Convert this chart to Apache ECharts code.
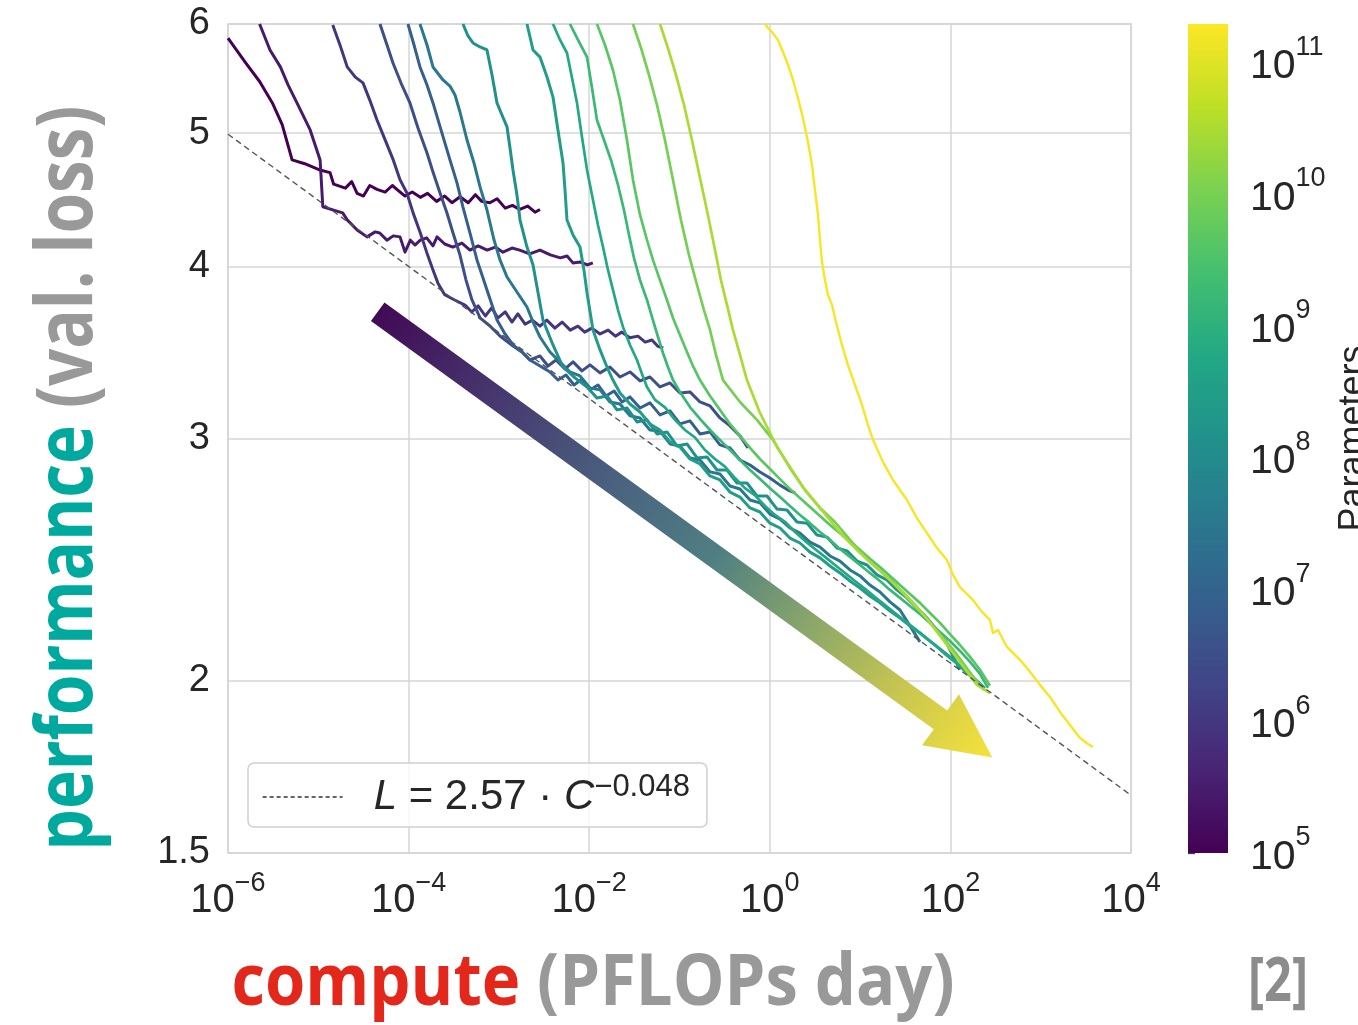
<!DOCTYPE html>
<html lang="en">
<head>
  <meta charset="UTF-8">
  <title>Loss vs compute</title>
  <style>
    body { margin: 0; background: #fff; }
    #main { width: 1358px; height: 1025px; }
  </style>
</head>
<body>
  <div id="main"></div>
</body>
</html>
<script src="https://cdn.jsdelivr.net/npm/echarts@6/dist/echarts.min.js"></script>
<script>
// ticks
var computeTicks = [1e-6, 1e-4, 1e-2, 1, 1e2, 1e4];
var lossTicks = [1.5, 2, 3, 4, 5, 6];
var paramTicks = [1e5, 1e6, 1e7, 1e8, 1e9, 1e10, 1e11];
var paramRange = [1e5, 1.95e11];

// model size of each run, same order as runs below
var params = [1e5, 2.8e5, 9e5, 3.2e6, 7.7e6, 3.3e7, 1.4e8, 2.9e8, 5.9e8, 1.6e9, 4.5e9, 9.3e9, 3e10, 1.75e11];

// each point: [log10 compute (PF-days), validation loss]
var runA = [[-6.00,5.86],[-5.81,5.63],[-5.65,5.45],[-5.51,5.26],[-5.40,5.07],[-5.29,4.78],[-5.15,4.75],[-4.98,4.70],[-4.87,4.68],[-4.83,4.59],[-4.70,4.56],[-4.63,4.61],[-4.57,4.52],[-4.50,4.50],[-4.43,4.58],[-4.35,4.55],[-4.26,4.53],[-4.18,4.58],[-4.12,4.545],[-4.04,4.50],[-3.96,4.53],[-3.87,4.49],[-3.79,4.52],[-3.69,4.46],[-3.60,4.50],[-3.52,4.45],[-3.43,4.495],[-3.34,4.45],[-3.26,4.51],[-3.19,4.46],[-3.10,4.45],[-3.02,4.48],[-2.93,4.41],[-2.85,4.43],[-2.77,4.40],[-2.68,4.425],[-2.60,4.38],[-2.545,4.40]];
var runB = [[-5.65,6.0],[-5.535,5.745],[-5.42,5.585],[-5.335,5.42],[-5.235,5.257],[-5.09,5.026],[-4.98,4.78],[-4.95,4.42],[-4.84,4.397],[-4.73,4.375],[-4.68,4.324],[-4.57,4.252],[-4.46,4.203],[-4.37,4.238],[-4.32,4.23],[-4.24,4.18],[-4.17,4.21],[-4.095,4.203],[-4.04,4.097],[-3.98,4.18],[-3.93,4.146],[-3.87,4.18],[-3.80,4.196],[-3.73,4.14],[-3.685,4.203],[-3.60,4.153],[-3.51,4.132],[-3.41,4.16],[-3.32,4.111],[-3.23,4.14],[-3.13,4.111],[-3.04,4.132],[-2.955,4.097],[-2.855,4.125],[-2.77,4.111],[-2.66,4.085],[-2.545,4.111],[-2.43,4.078],[-2.32,4.058],[-2.245,4.071],[-2.18,4.024],[-2.10,4.03],[-2.02,4.01],[-1.96,4.024]];
var runC = [[-4.84,5.99],[-4.76,5.794],[-4.68,5.585],[-4.59,5.49],[-4.505,5.437],[-4.43,5.283],[-4.35,5.11],[-4.26,4.943],[-4.17,4.78],[-4.095,4.624],[-4.02,4.525],[-3.95,4.375],[-3.87,4.23],[-3.80,4.097],[-3.73,3.977],[-3.675,3.89],[-3.60,3.815],[-3.49,3.782],[-3.375,3.75],[-3.30,3.707],[-3.23,3.745],[-3.15,3.682],[-3.08,3.732],[-3.01,3.67],[-2.93,3.707],[-2.855,3.645],[-2.79,3.695],[-2.71,3.632],[-2.63,3.657],[-2.545,3.62],[-2.47,3.657],[-2.38,3.608],[-2.30,3.645],[-2.21,3.596],[-2.125,3.62],[-2.05,3.584],[-1.97,3.608],[-1.88,3.573],[-1.79,3.596],[-1.71,3.56],[-1.64,3.584],[-1.55,3.55],[-1.46,3.56],[-1.38,3.525],[-1.305,3.537],[-1.24,3.50],[-1.18,3.49]];
var runD = [[-4.317,6.0],[-4.239,5.793],[-4.173,5.621],[-4.084,5.436],[-3.985,5.258],[-3.896,5.042],[-3.796,4.836],[-3.730,4.685],[-3.652,4.523],[-3.575,4.374],[-3.508,4.230],[-3.431,4.077],[-3.364,3.910],[-3.298,3.782],[-3.209,3.670],[-3.099,3.621],[-2.988,3.561],[-2.844,3.502],[-2.744,3.467],[-2.656,3.421],[-2.545,3.444],[-2.456,3.387],[-2.368,3.421],[-2.268,3.370],[-2.179,3.410],[-2.080,3.359],[-1.991,3.393],[-1.880,3.348],[-1.770,3.381],[-1.659,3.325],[-1.548,3.353],[-1.437,3.303],[-1.327,3.325],[-1.216,3.270],[-1.105,3.292],[-0.995,3.237],[-0.884,3.243],[-0.773,3.189],[-0.662,3.168],[-0.552,3.105],[-0.441,3.064],[-0.330,3.013],[-0.242,2.953]];
var runE = [[-4.007,6.0],[-3.940,5.793],[-3.874,5.584],[-3.796,5.418],[-3.730,5.258],[-3.641,5.026],[-3.542,4.780],[-3.464,4.600],[-3.398,4.418],[-3.320,4.230],[-3.243,4.044],[-3.187,3.943],[-3.132,3.846],[-3.076,3.751],[-3.021,3.657],[-2.932,3.573],[-2.844,3.508],[-2.744,3.467],[-2.656,3.421],[-2.545,3.387],[-2.434,3.353],[-2.346,3.308],[-2.257,3.336],[-2.168,3.281],[-2.080,3.314],[-1.991,3.254],[-1.903,3.281],[-1.814,3.221],[-1.725,3.248],[-1.637,3.189],[-1.548,3.216],[-1.437,3.157],[-1.327,3.184],[-1.216,3.121],[-1.105,3.142],[-0.995,3.074],[-0.884,3.090],[-0.773,3.023],[-0.662,3.033],[-0.552,2.968],[-0.441,2.953],[-0.330,2.894],[-0.219,2.870],[-0.109,2.837],[0.002,2.808],[0.113,2.775],[0.202,2.752],[0.280,2.739]];
var runF = [[-3.874,6.0],[-3.796,5.793],[-3.730,5.584],[-3.619,5.464],[-3.542,5.409],[-3.486,5.328],[-3.431,5.179],[-3.353,4.942],[-3.276,4.756],[-3.209,4.569],[-3.132,4.396],[-3.054,4.181],[-2.988,4.044],[-2.910,3.930],[-2.800,3.833],[-2.689,3.738],[-2.622,3.645],[-2.545,3.555],[-2.434,3.467],[-2.323,3.409],[-2.213,3.353],[-2.102,3.331],[-1.991,3.264],[-1.880,3.254],[-1.770,3.189],[-1.659,3.178],[-1.548,3.116],[-1.437,3.105],[-1.327,3.043],[-1.216,3.038],[-1.105,2.973],[-0.995,2.963],[-0.884,2.904],[-0.773,2.894],[-0.662,2.837],[-0.552,2.827],[-0.441,2.771],[-0.330,2.757],[-0.219,2.707],[-0.109,2.694],[0.002,2.644],[0.113,2.622],[0.223,2.583],[0.334,2.561],[0.445,2.523],[0.556,2.502],[0.667,2.465],[0.777,2.444],[0.888,2.408],[0.999,2.384],[1.109,2.348],[1.220,2.321],[1.331,2.283],[1.442,2.252],[1.552,2.193],[1.663,2.135]];
var runG = [[-3.398,6.0],[-3.342,5.881],[-3.287,5.813],[-3.209,5.774],[-3.132,5.745],[-3.076,5.510],[-3.021,5.258],[-2.966,5.153],[-2.910,5.051],[-2.877,4.877],[-2.844,4.701],[-2.800,4.508],[-2.766,4.323],[-2.689,4.132],[-2.622,4.010],[-2.578,3.865],[-2.512,3.657],[-2.401,3.508],[-2.290,3.381],[-2.157,3.320],[-2.024,3.270],[-1.914,3.210],[-1.803,3.221],[-1.692,3.147],[-1.582,3.157],[-1.471,3.084],[-1.360,3.095],[-1.249,3.023],[-1.139,3.033],[-1.028,2.963],[-0.917,2.973],[-0.806,2.904],[-0.696,2.909],[-0.585,2.846],[-0.474,2.846],[-0.363,2.785],[-0.253,2.785],[-0.142,2.725],[-0.031,2.725],[0.080,2.666],[0.190,2.662],[0.301,2.609],[0.412,2.604],[0.522,2.553],[0.633,2.544],[0.744,2.498],[0.855,2.486],[0.966,2.444],[1.076,2.428],[1.187,2.388],[1.298,2.368],[1.408,2.329],[1.519,2.298],[1.630,2.260],[1.741,2.222],[1.851,2.178],[1.962,2.128],[2.051,2.072],[2.106,2.038]];
var runH = [[-2.689,6.0],[-2.622,5.745],[-2.545,5.677],[-2.467,5.491],[-2.401,5.310],[-2.346,5.026],[-2.290,4.756],[-2.268,4.546],[-2.246,4.323],[-2.179,4.216],[-2.102,4.132],[-2.058,3.977],[-2.024,3.826],[-1.958,3.597],[-1.880,3.479],[-1.803,3.381],[-1.737,3.308],[-1.659,3.237],[-1.548,3.178],[-1.437,3.136],[-1.327,3.074],[-1.216,3.043],[-1.105,2.983],[-0.995,2.958],[-0.884,2.899],[-0.773,2.875],[-0.662,2.818],[-0.552,2.799],[-0.441,2.743],[-0.330,2.720],[-0.219,2.671],[-0.109,2.653],[0.002,2.604],[0.113,2.583],[0.223,2.540],[0.334,2.519],[0.445,2.481],[0.556,2.457],[0.667,2.424],[0.777,2.396],[0.888,2.364],[0.999,2.336],[1.109,2.305],[1.220,2.279],[1.331,2.248],[1.442,2.222],[1.552,2.193],[1.663,2.167],[1.774,2.138],[1.885,2.110],[1.995,2.082],[2.106,2.051],[2.195,2.024],[2.272,2.003]];
var runI = [[-2.401,6.0],[-2.323,5.842],[-2.246,5.716],[-2.190,5.482],[-2.135,5.258],[-2.080,4.967],[-2.024,4.701],[-1.958,4.470],[-1.903,4.287],[-1.847,4.132],[-1.792,3.977],[-1.737,3.846],[-1.681,3.719],[-1.626,3.615],[-1.548,3.508],[-1.471,3.421],[-1.415,3.342],[-1.360,3.270],[-1.271,3.200],[-1.161,3.16],[-1.050,3.095],[-0.939,3.043],[-0.828,3.005],[-0.718,2.943],[-0.607,2.899],[-0.496,2.862],[-0.386,2.808],[-0.275,2.761],[-0.164,2.728],[-0.053,2.680],[0.057,2.640],[0.168,2.610],[0.279,2.566],[0.389,2.528],[0.500,2.494],[0.611,2.461],[0.722,2.428],[0.833,2.396],[0.943,2.364],[1.054,2.333],[1.165,2.301],[1.276,2.271],[1.386,2.241],[1.497,2.211],[1.608,2.182],[1.719,2.152],[1.829,2.124],[1.940,2.092],[2.051,2.065],[2.162,2.038],[2.272,2.007],[2.383,1.977]];
var runJ = [[-2.213,6.0],[-2.124,5.842],[-2.024,5.677],[-1.969,5.391],[-1.914,5.110],[-1.836,4.942],[-1.759,4.780],[-1.681,4.584],[-1.615,4.396],[-1.559,4.216],[-1.504,4.057],[-1.437,3.910],[-1.360,3.782],[-1.294,3.657],[-1.238,3.555],[-1.183,3.461],[-1.128,3.381],[-1.072,3.308],[-0.995,3.243],[-0.884,3.162],[-0.773,3.100],[-0.662,3.043],[-0.552,2.993],[-0.441,2.943],[-0.330,2.894],[-0.219,2.846],[-0.109,2.803],[0.002,2.761],[0.113,2.720],[0.223,2.680],[0.334,2.640],[0.445,2.604],[0.556,2.566],[0.667,2.532],[0.777,2.494],[0.888,2.461],[0.999,2.428],[1.109,2.396],[1.220,2.364],[1.331,2.329],[1.442,2.298],[1.552,2.267],[1.663,2.237],[1.774,2.204],[1.885,2.171],[1.995,2.138],[2.106,2.103],[2.217,2.065],[2.328,2.024],[2.416,1.977]];
var runK = [[-1.914,6.0],[-1.825,5.793],[-1.737,5.556],[-1.659,5.284],[-1.582,4.942],[-1.515,4.623],[-1.437,4.360],[-1.360,4.181],[-1.294,4.044],[-1.216,3.910],[-1.139,3.782],[-1.072,3.670],[-0.995,3.567],[-0.917,3.467],[-0.851,3.387],[-0.773,3.308],[-0.662,3.221],[-0.552,3.147],[-0.441,3.074],[-0.330,3.013],[-0.219,2.953],[-0.109,2.899],[0.002,2.851],[0.113,2.803],[0.223,2.757],[0.334,2.716],[0.445,2.675],[0.556,2.635],[0.667,2.596],[0.777,2.561],[0.888,2.523],[0.999,2.490],[1.109,2.453],[1.220,2.420],[1.331,2.384],[1.442,2.348],[1.552,2.313],[1.663,2.279],[1.774,2.241],[1.885,2.204],[1.995,2.163],[2.106,2.124],[2.217,2.082],[2.328,2.038],[2.438,1.984]];
var runL = [[-1.515,6.0],[-1.426,5.764],[-1.338,5.510],[-1.249,5.240],[-1.161,4.942],[-1.072,4.623],[-0.984,4.323],[-0.895,4.077],[-0.806,3.878],[-0.729,3.719],[-0.662,3.597],[-0.596,3.450],[-0.518,3.308],[-0.330,3.189],[-0.142,3.095],[0.035,2.993],[0.223,2.856],[0.389,2.752],[0.556,2.671],[0.722,2.609],[0.888,2.532],[1.109,2.440],[1.364,2.360],[1.608,2.271],[1.829,2.185],[2.051,2.099],[2.239,2.020],[2.372,1.970]];
var runM = [[-1.216,6.0],[-1.128,5.764],[-1.039,5.510],[-0.950,5.240],[-0.862,4.942],[-0.773,4.638],[-0.685,4.360],[-0.607,4.111],[-0.541,3.910],[-0.474,3.751],[-0.408,3.597],[-0.330,3.450],[-0.253,3.308],[-0.109,3.131],[0.080,2.958],[0.223,2.861],[0.367,2.766],[0.500,2.698],[0.667,2.617],[0.811,2.548],[0.999,2.477],[1.187,2.416],[1.364,2.356],[1.552,2.290],[1.752,2.215],[1.962,2.124],[2.128,2.055],[2.294,1.987],[2.438,1.960]];
var runY = [[-0.053,6.0],[-0.020,5.960],[0.024,5.920],[0.091,5.842],[0.146,5.725],[0.202,5.603],[0.257,5.464],[0.312,5.302],[0.367,5.128],[0.423,4.926],[0.467,4.740],[0.500,4.546],[0.534,4.360],[0.556,4.181],[0.578,4.030],[0.611,3.910],[0.644,3.814],[0.689,3.751],[0.733,3.645],[0.799,3.508],[0.866,3.392],[0.943,3.281],[1.021,3.173],[1.087,3.069],[1.143,2.993],[1.253,2.885],[1.364,2.799],[1.519,2.707],[1.630,2.626],[1.741,2.561],[1.851,2.498],[1.962,2.448],[2.029,2.388],[2.106,2.340],[2.250,2.290],[2.350,2.245],[2.438,2.215],[2.472,2.167],[2.527,2.178],[2.627,2.117],[2.771,2.072],[2.881,2.031],[2.992,1.987],[3.103,1.947],[3.214,1.899],[3.324,1.858],[3.435,1.818],[3.524,1.800],[3.579,1.791]];
var runs = [runA, runB, runC, runD, runE, runF, runG, runH, runI, runJ, runK, runL, runM, runY];

// L = 2.57 * C^-0.048, end points
var fitLine = [[1e-6, 4.99], [1e4, 1.652]];

// big annotation arrow, in data coordinates
var arrowFrom = [Math.pow(10, -4.342), 3.708];
var arrowTo = [Math.pow(10, 2.464), 1.760];

var viridis = ['#440154', '#482475', '#414487', '#355f8d', '#2a788e', '#21918c', '#22a884', '#44bf70', '#7ad151', '#bddf26', '#fde725'];
var FONT = 'Liberation Sans';
var INK = '#262626';

function hexToRgb(h) {
  return [parseInt(h.slice(1, 3), 16), parseInt(h.slice(3, 5), 16), parseInt(h.slice(5, 7), 16)];
}
function viridisAt(t) {
  t = Math.max(0, Math.min(1, t));
  var s = t * 10;
  var i = Math.min(9, Math.floor(s));
  var f = s - i;
  var a = hexToRgb(viridis[i]), b = hexToRgb(viridis[i + 1]);
  var c = a.map(function (v, k) { return Math.round(v + (b[k] - v) * f); });
  return 'rgb(' + c.join(',') + ')';
}
function paramColor(p) {
  var lo = Math.log10(paramRange[0]), hi = Math.log10(paramRange[1]);
  return viridisAt((Math.log10(p) - lo) / (hi - lo));
}
function powLabel(v) {
  var n = Math.round(Math.log10(v));
  return '{b|10}{s|' + (n < 0 ? '\u2212' + (-n) : n) + '}';
}
function textWidth(str, font) {
  var c = textWidth.ctx || (textWidth.ctx = document.createElement('canvas').getContext('2d'));
  c.font = font;
  return c.measureText(str).width;
}

var cbStops = viridis.map(function (c, i) { return { offset: i / 10, color: c }; });

var series = runs.map(function (run, i) {
  var w = i < 8 ? 3 : (i === runs.length - 1 ? 2.4 : 2.7);
  return {
    name: 'N=' + params[i],
    type: 'line',
    xAxisIndex: 0,
    yAxisIndex: 0,
    data: run.map(function (p) { return [Math.pow(10, p[0]), p[1]]; }),
    symbol: 'none',
    silent: true,
    z: 2,
    lineStyle: { color: paramColor(params[i]), width: w, join: 'round' }
  };
});
series.push({
  name: 'fit',
  type: 'line',
  data: fitLine,
  symbol: 'none',
  silent: true,
  z: 4,
  itemStyle: { color: '#555' },
  lineStyle: { color: '#555', width: 1.4, type: [6, 4] }
});
series.push({
  type: 'custom',
  xAxisIndex: 1,
  yAxisIndex: 1,
  silent: true,
  data: [[0, 1, paramRange[0], paramRange[1]]],
  renderItem: function (params, api) {
    var p0 = api.coord([api.value(0), api.value(2)]);
    var p1 = api.coord([api.value(1), api.value(3)]);
    return {
      type: 'rect',
      shape: { x: p0[0], y: p1[1], width: p1[0] - p0[0], height: p0[1] - p1[1] },
      style: { fill: new echarts.graphic.LinearGradient(0, 1, 0, 0, cbStops) }
    };
  }
});

var chart = echarts.init(document.getElementById('main'));
var option = {
  animation: false,
  textStyle: { fontFamily: FONT },
  grid: [
    { left: 228, top: 24, width: 903, height: 829, outerBoundsMode: 'none', show: true, borderColor: '#cfcfcf', borderWidth: 1.5 },
    { left: 1188, top: 24, width: 40, height: 829, outerBoundsMode: 'none' }
  ],
  xAxis: [
    {
      type: 'log', gridIndex: 0, min: 1e-6, max: 1e4,
      axisLine: { show: false },
      axisTick: { show: false, customValues: computeTicks },
      splitLine: { show: true, lineStyle: { color: '#d6d6d6', width: 1.5 } },
      axisLabel: {
        customValues: computeTicks,
        formatter: powLabel,
        margin: 17,
        rich: {
          b: { fontSize: 40, lineHeight: 62, color: INK, fontFamily: FONT },
          s: { fontSize: 27, lineHeight: 20, verticalAlign: 'top', color: INK, fontFamily: FONT }
        }
      }
    },
    { type: 'value', gridIndex: 1, min: 0, max: 1, show: false }
  ],
  yAxis: [
    {
      type: 'log', gridIndex: 0, min: 1.5, max: 6,
      axisLine: { show: false },
      axisTick: { show: false, customValues: lossTicks },
      splitLine: { show: true, lineStyle: { color: '#d6d6d6', width: 1.5 } },
      axisLabel: {
        customValues: lossTicks,
        formatter: function (v) { return String(Math.round(v * 10) / 10); },
        margin: 18, fontSize: 38, color: INK, fontFamily: FONT,
        padding: [7, 0, 0, 0]
      }
    },
    {
      type: 'log', gridIndex: 1, min: paramRange[0], max: paramRange[1], position: 'right',
      axisLine: { show: false },
      axisTick: { show: true, customValues: paramTicks, length: 7, lineStyle: { color: '#444', width: 1.3 } },
      splitLine: { show: false },
      axisLabel: {
        customValues: paramTicks,
        formatter: powLabel,
        margin: 22,
        padding: [9, 0, 0, 0],
        rich: {
          b: { fontSize: 41, lineHeight: 66, color: INK, fontFamily: FONT },
          s: { fontSize: 27, lineHeight: 20, verticalAlign: 'top', color: INK, fontFamily: FONT }
        }
      },
      name: 'Parameters',
      nameLocation: 'middle',
      nameRotate: 90,
      nameGap: 108,
      nameTextStyle: { fontSize: 36, color: INK, fontFamily: FONT }
    }
  ],
  legend: {
    data: ['fit'],
    left: 248, top: 763,
    orient: 'vertical',
    selectedMode: false,
    padding: [9, 17, 9, 14],
    itemWidth: 80, itemHeight: 20,
    backgroundColor: 'rgba(255,255,255,0.8)',
    borderColor: '#d0d0d0', borderWidth: 1.5, borderRadius: 6,
    itemStyle: { opacity: 0 },
    lineStyle: { width: 1.3, type: [4, 3], color: '#333' },
    formatter: function () { return '{sp|}{it|L}{n| = 2.57 \u00b7 }{it|C}{sup|\u22120.048}'; },
    textStyle: {
      color: INK,
      rich: {
        sp: { width: 26 },
        it: { fontSize: 42, lineHeight: 50, fontStyle: 'italic', color: INK, fontFamily: FONT },
        n: { fontSize: 42, lineHeight: 50, color: INK, fontFamily: FONT },
        sup: { fontSize: 31, lineHeight: 24, verticalAlign: 'top', color: INK, fontFamily: FONT }
      }
    }
  },
  series: series
};
chart.setOption(option);

// arrow shape built around the two data points
var t = chart.convertToPixel({ gridIndex: 0 }, arrowFrom);
var p = chart.convertToPixel({ gridIndex: 0 }, arrowTo);
var dx = p[0] - t[0], dy = p[1] - t[1];
var len = Math.sqrt(dx * dx + dy * dy);
var ux = dx / len, uy = dy / len, nx = -uy, ny = ux;
var shaft = 11.5, head = 31.5, headLen = 64;
var bx = p[0] - ux * headLen, by = p[1] - uy * headLen;
var arrowPts = [
  [t[0] + nx * shaft, t[1] + ny * shaft],
  [bx + nx * shaft, by + ny * shaft],
  [bx + nx * head, by + ny * head],
  [p[0], p[1]],
  [bx - nx * head, by - ny * head],
  [bx - nx * shaft, by - ny * shaft],
  [t[0] - nx * shaft, t[1] - ny * shaft]
];
var arrowFill = new echarts.graphic.LinearGradient(t[0], t[1], p[0], p[1], [
  { offset: 0, color: '#420a55' },
  { offset: 0.2, color: '#463a70' },
  { offset: 0.4, color: '#4a6580' },
  { offset: 0.55, color: '#4f7f82' },
  { offset: 0.7, color: '#8aa66a' },
  { offset: 0.85, color: '#c8c650' },
  { offset: 1, color: '#f5e23a' }
], true);

var TITLE_FONT = 'Open Sans';
var yTitle = 'performance (val. loss)';
var xTitle = 'compute (PFLOPs day)';
var yScale = 745 / textWidth(yTitle, 'bold 78px "' + TITLE_FONT + '"');
var xScale = 723 / textWidth(xTitle, 'bold 72px "' + TITLE_FONT + '"');
var refScale = 60 / textWidth('[2]', 'bold 60px "' + TITLE_FONT + '"');

chart.setOption({
  graphic: [
    {
      type: 'polygon', z: 50, silent: true,
      shape: { points: arrowPts },
      style: { fill: arrowFill }
    },
    {
      type: 'text', x: 70, y: 478, rotation: Math.PI / 2, scaleX: yScale, silent: true,
      style: {
        text: '{a|performance} {b|(val. loss)}',
        align: 'center', verticalAlign: 'middle',
        fontSize: 78, fontWeight: 'bold', fontFamily: TITLE_FONT, fill: '#999999',
        rich: {
          a: { fill: '#00a99d', fontSize: 78, fontWeight: 'bold', fontFamily: TITLE_FONT },
          b: { fill: '#999999', fontSize: 78, fontWeight: 'bold', fontFamily: TITLE_FONT }
        }
      }
    },
    {
      type: 'text', x: 593, y: 984, scaleX: xScale, silent: true,
      style: {
        text: '{a|compute} {b|(PFLOPs day)}',
        align: 'center', verticalAlign: 'middle',
        fontSize: 72, fontWeight: 'bold', fontFamily: TITLE_FONT, fill: '#999999',
        rich: {
          a: { fill: '#e3271b', fontSize: 72, fontWeight: 'bold', fontFamily: TITLE_FONT },
          b: { fill: '#999999', fontSize: 72, fontWeight: 'bold', fontFamily: TITLE_FONT }
        }
      }
    },
    {
      type: 'text', x: 1278, y: 984, scaleX: refScale, silent: true,
      style: {
        text: '[2]', align: 'center', verticalAlign: 'middle',
        fontSize: 60, fontWeight: 'bold', fontFamily: TITLE_FONT, fill: '#8c8c8c'
      }
    }
  ]
});
</script>
